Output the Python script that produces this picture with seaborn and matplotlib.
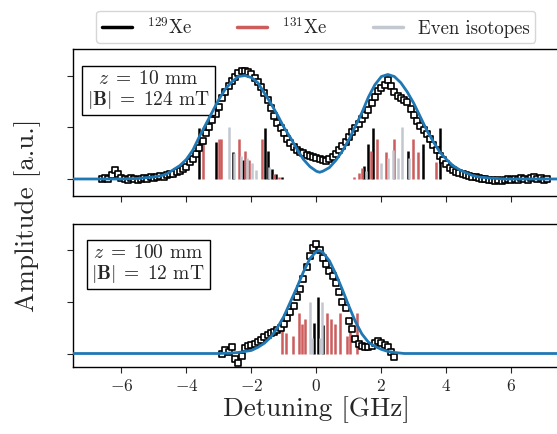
import numpy as np
import pandas as pd
import matplotlib
matplotlib.use("Agg")
import matplotlib.pyplot as plt
import seaborn as sns
from matplotlib.lines import Line2D

# measured spectrum, z = 10 mm (scan step 0.1 GHz)
top_detuning = np.round(np.arange(-6.6, 7.15, 0.1), 2)
top_amplitude = [
    0.00, 0.01, 0.00, 0.04, 0.09, 0.05, 0.01, 0.00, -0.01, 0.01,
    0.00, -0.01, 0.00, 0.01, 0.00, 0.02, 0.01, 0.02, 0.03, 0.02,
    0.04, 0.05, 0.05, 0.07, 0.08, 0.10, 0.12, 0.16, 0.19, 0.24,
    0.30, 0.37, 0.44, 0.50, 0.57, 0.63, 0.70, 0.78, 0.84, 0.90,
    0.95, 0.99, 1.02, 1.04, 1.04, 1.03, 1.01, 0.98, 0.94, 0.89,
    0.83, 0.76, 0.69, 0.61, 0.54, 0.49, 0.44, 0.39, 0.35, 0.31,
    0.28, 0.26, 0.25, 0.23, 0.22, 0.21, 0.20, 0.19, 0.18, 0.17,
    0.19, 0.21, 0.24, 0.28, 0.32, 0.36, 0.41, 0.45, 0.49, 0.53,
    0.58, 0.62, 0.67, 0.73, 0.79, 0.85, 0.88, 0.91, 0.96, 0.90,
    0.84, 0.80, 0.78, 0.76, 0.74, 0.68, 0.62, 0.56, 0.51, 0.47,
    0.43, 0.39, 0.33, 0.28, 0.22, 0.18, 0.14, 0.11, 0.09, 0.07,
    0.06, 0.05, 0.04, 0.03, 0.02, 0.02, 0.01, 0.00, 0.00, -0.01,
    -0.01, -0.02, -0.01, -0.02, -0.01, 0.00, -0.01, 0.00, -0.01, 0.01,
    0.00, -0.01, 0.01, 0.02, 0.00, 0.01, -0.01, 0.00,
]

# fit, z = 10 mm
top_fit_x = [-7.5, -6.0, -5.5, -5.0, -4.8, -4.6, -4.4, -4.2, -4.0, -3.8,
             -3.6, -3.4, -3.2, -3.0, -2.8, -2.6, -2.4, -2.2, -2.0, -1.8,
             -1.6, -1.4, -1.2, -1.0, -0.8, -0.6, -0.4, -0.2, 0.0, 0.1,
             0.2, 0.4, 0.6, 0.8, 1.0, 1.2, 1.4, 1.6, 1.8, 2.0,
             2.2, 2.4, 2.6, 2.8, 3.0, 3.2, 3.4, 3.6, 3.8, 4.0,
             4.2, 4.4, 4.6, 4.8, 5.0, 5.3, 5.8, 7.5]
top_fit_y = [0.00, 0.00, 0.005, 0.02, 0.03, 0.05, 0.09, 0.13, 0.19, 0.28,
             0.41, 0.53, 0.65, 0.77, 0.87, 0.94, 0.99, 1.00, 0.98, 0.93,
             0.83, 0.73, 0.62, 0.50, 0.40, 0.29, 0.19, 0.12, 0.075, 0.065,
             0.075, 0.11, 0.18, 0.27, 0.38, 0.51, 0.64, 0.79, 0.91, 0.99,
             1.01, 0.99, 0.93, 0.84, 0.73, 0.60, 0.47, 0.36, 0.26, 0.19,
             0.13, 0.09, 0.06, 0.035, 0.02, 0.01, 0.00, 0.00]

# measured spectrum, z = 100 mm (scan step 0.1 GHz)
bot_detuning = np.round(np.arange(-2.9, 2.45, 0.1), 2)
bot_amplitude = [
    0.00, 0.03, 0.01, 0.06, -0.05, -0.09, -0.02, 0.05, 0.07, 0.08,
    0.09, 0.11, 0.13, 0.16, 0.18, 0.20, 0.21, 0.23, 0.25, 0.29,
    0.34, 0.40, 0.46, 0.55, 0.63, 0.72, 0.84, 0.95, 1.02, 1.06,
    1.00, 0.93, 0.87, 0.80, 0.75, 0.68, 0.60, 0.50, 0.44, 0.32,
    0.24, 0.14, 0.09, 0.07, 0.06, 0.06, 0.07, 0.10, 0.12, 0.10,
    0.08, 0.06, 0.01, -0.03,
]

# fit, z = 100 mm
bot_fit_x = [-7.5, -3.0, -2.6, -2.4, -2.2, -2.0, -1.8, -1.6, -1.4, -1.2,
             -1.0, -0.8, -0.6, -0.4, -0.2, 0.0, 0.1, 0.2, 0.4, 0.6,
             0.8, 1.0, 1.2, 1.4, 1.6, 1.8, 2.0, 2.2, 2.4, 2.7, 7.5]
bot_fit_y = [0.00, 0.00, 0.005, 0.01, 0.02, 0.03, 0.06, 0.10, 0.16, 0.25,
             0.36, 0.50, 0.64, 0.79, 0.92, 0.99, 1.00, 0.98, 0.90, 0.77,
             0.62, 0.46, 0.31, 0.19, 0.11, 0.07, 0.04, 0.02, 0.01, 0.00, 0.00]

# isotope line positions [GHz] and relative strengths, z = 10 mm
top_xe129_pos = [-3.61, -3.10, -2.58, -2.25, -1.58, -1.48, -1.37, -1.24, -1.05,
                 1.47, 1.59, 1.74, 2.81, 3.27, 3.82]
top_xe129_amp = [0.49, 0.36, 0.26, 0.18, 0.49, 0.27, 0.10, 0.05, 0.02,
                 0.13, 0.34, 0.49, 0.27, 0.34, 0.49]
top_xe131_pos = [-3.49, -2.99, -2.93, -2.37, -2.20, -2.06, -1.68, -1.31, -1.15,
                 1.15, 1.31, 1.41, 1.69, 1.88, 2.14, 2.39, 2.96, 3.12, 3.68]
top_xe131_amp = [0.35, 0.39, 0.39, 0.39, 0.27, 0.18, 0.39, 0.05, 0.02,
                 0.02, 0.06, 0.11, 0.27, 0.39, 0.26, 0.39, 0.39, 0.26, 0.16]
top_even_pos = [-2.68, -2.55, -2.33, -2.13, -1.98, -1.86, -1.45,
                1.52, 1.98, 2.19, 2.37, 2.50, 2.65, 2.85]
top_even_amp = [0.50, 0.25, 0.22, 0.20, 0.15, 0.09, 0.12,
                0.08, 0.15, 0.20, 0.28, 0.20, 0.50, 0.20]

# isotope line positions [GHz] and relative strengths, z = 100 mm
bot_xe129_pos = [-0.06, 0.05, 0.20]
bot_xe129_amp = [0.30, 0.55, 0.28]
bot_xe131_pos = [-1.06, -0.93, -0.72, -0.55, -0.44, -0.34,
                 0.33, 0.45, 0.56, 0.74, 0.95, 1.05, 1.26]
bot_xe131_amp = [0.23, 0.20, 0.17, 0.39, 0.29, 0.33,
                 0.39, 0.33, 0.29, 0.39, 0.17, 0.23, 0.39]
bot_even_pos = [-0.21, -0.12, 0.10, 0.18]
bot_even_amp = [0.50, 0.15, 0.15, 0.50]

panel_labels = ["$z\\;=\\;10$ mm\n$|\\mathbf{B}|\\;=\\;124$ mT",
                "$z\\;=\\;100$ mm\n$|\\mathbf{B}|\\;=\\;12$ mT"]

c129 = "black"
c131 = "#cd5c5c"
ceven = "#c3c7d0"
cfit = "#1f77b4"

sns.set_style("ticks")
plt.rcParams["font.family"] = "serif"
plt.rcParams["font.serif"] = ["cmr10"]
plt.rcParams["mathtext.fontset"] = "cm"
plt.rcParams["axes.formatter.use_mathtext"] = True
plt.rcParams["axes.unicode_minus"] = True

fig = plt.figure(figsize=(5.57, 4.35), dpi=100)
ax_top = fig.add_axes([0.1305, 0.547, 0.875, 0.338])
ax_bot = fig.add_axes([0.1305, 0.154, 0.875, 0.329])

panels = [
    (ax_top, top_detuning, top_amplitude, top_fit_x, top_fit_y,
     (top_xe129_pos, top_xe129_amp), (top_xe131_pos, top_xe131_amp),
     (top_even_pos, top_even_amp), (-0.165, 1.256)),
    (ax_bot, bot_detuning, bot_amplitude, bot_fit_x, bot_fit_y,
     (bot_xe129_pos, bot_xe129_amp), (bot_xe131_pos, bot_xe131_amp),
     (bot_even_pos, bot_even_amp), (-0.131, 1.257)),
]

for i, (ax, dx, dy, fx, fy, s129, s131, seven, ylim) in enumerate(panels):
    # isotope sticks
    ax.vlines(s129[0], 0, s129[1], color=c129, lw=1.8, zorder=2)
    ax.vlines(s131[0], 0, s131[1], color=c131, lw=1.8, zorder=2)
    ax.vlines(seven[0], 0, seven[1], color=ceven, lw=1.8, zorder=2)

    meas = pd.DataFrame({"detuning": dx, "amplitude": dy})
    sns.scatterplot(data=meas, x="detuning", y="amplitude", ax=ax,
                    marker="s", s=20, facecolor="white", edgecolor="black",
                    linewidth=1.2, zorder=3)
    fit = pd.DataFrame({"detuning": fx, "amplitude": fy})
    sns.lineplot(data=fit, x="detuning", y="amplitude", ax=ax,
                 color=cfit, lw=2.0, zorder=4)

    ax.set_xlim(-7.5, 7.5)
    ax.set_ylim(*ylim)
    ax.set_xticks([-6, -4, -2, 0, 2, 4, 6])
    ax.set_yticks([0, 0.5, 1.0])
    ax.set_yticklabels([])
    ax.set_ylabel("")
    ax.tick_params(labelsize=12.5, length=4)
    for sp in ax.spines.values():
        sp.set_visible(True)
        sp.set_linewidth(1.0)
        sp.set_color("black")

    ax.text(0.155, 0.865, panel_labels[i], transform=ax.transAxes,
            ha="center", va="top", multialignment="center",
            fontsize=14, linespacing=1.05,
            bbox=dict(boxstyle="square,pad=0.25", fc="white", ec="black", lw=1.0))

ax_top.set_xticklabels([])
ax_top.set_xlabel("")
ax_bot.set_xlabel("Detuning [GHz]", fontsize=19.5, labelpad=1)

fig.text(0.05, 0.506, "Amplitude [a.u.]", rotation=90, ha="center",
         va="center", fontsize=19.5)

handles = [Line2D([], [], color=c129, lw=2.5),
           Line2D([], [], color=c131, lw=2.5),
           Line2D([], [], color=ceven, lw=2.5)]
fig.legend(handles, ["$^{129}$Xe", "$^{131}$Xe", "Even isotopes"],
           loc="upper center", bbox_to_anchor=(0.567, 0.995), ncol=3,
           fontsize=13.5, handlelength=1.6, columnspacing=2.4, frameon=True,
           fancybox=True, borderpad=0.3)

fig.savefig("out.png", dpi=100)
